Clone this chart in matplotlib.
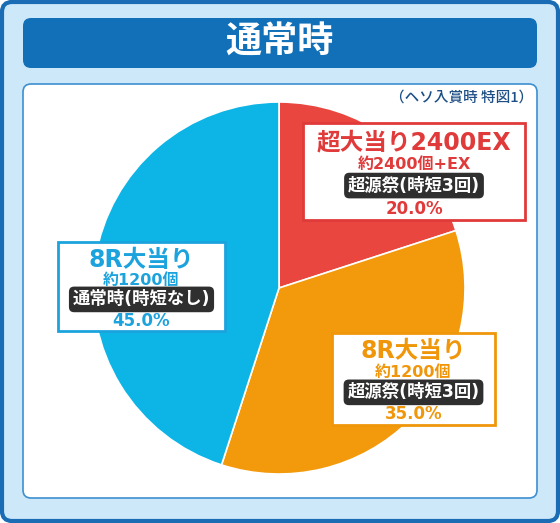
import matplotlib.pyplot as plt
from matplotlib.patches import FancyBboxPatch

plt.rcParams['font.family'] = ['DejaVu Sans', 'Noto Sans CJK JP']

W, H = 560, 523

title = '通常時'
note = '（ヘソ入賞時 特図1）'
labels = ['超大当り2400EX', '8R大当り', '8R大当り']
payouts = ['約2400個+EX', '約1200個', '約1200個']
modes = ['超源祭(時短3回)', '超源祭(時短3回)', '通常時(時短なし)']
shares = [20.0, 35.0, 45.0]

wedge_colors = ['#e8463f', '#f29a0c', '#0db4e6']
text_colors = ['#e03a3a', '#f0960a', '#1ca3dd']
# label boxes in pixel coords (left, top, right, bottom)
boxes = [(303, 123, 525, 220), (332, 333, 495, 425), (58, 242, 225, 331)]


def Y(y):
    return H - y


fig = plt.figure(figsize=(W / 100, H / 100), dpi=100)
ax = fig.add_axes([0, 0, 1, 1])

# outer frame
ax.add_patch(FancyBboxPatch((2, 2), W - 4, H - 4, boxstyle='round,pad=0,rounding_size=10',
                            fc='#cde8f8', ec='#1a6db5', lw=3))
# title bar
ax.add_patch(FancyBboxPatch((23, Y(68)), 514, 50, boxstyle='round,pad=0,rounding_size=8',
                            fc='#1170b8', ec='none'))
ax.text(280, Y(43), title, color='white', fontsize=26, fontweight='bold', ha='center', va='center')
# white panel
ax.add_patch(FancyBboxPatch((23, Y(498)), 514, 414, boxstyle='round,pad=0,rounding_size=8',
                            fc='white', ec='#3d8fd0', lw=1.2))
ax.text(533, Y(98), note, color='#1d4f86', fontsize=10.5, ha='right', va='center',
        family=['Noto Sans CJK JP', 'DejaVu Sans'], fontweight='medium')

ax.pie(shares, colors=wedge_colors, startangle=90, counterclock=False,
       center=(279, Y(288)), radius=186,
       wedgeprops=dict(edgecolor='white', linewidth=1.2))

for i in range(3):
    l, t, r, b = boxes[i]
    c = text_colors[i]
    ax.add_patch(plt.Rectangle((l, Y(b)), r - l, b - t, fc='white', ec=c, lw=2, zorder=3))
    cx = (l + r) / 2
    h = b - t
    ax.text(cx, Y(t + h * 0.2), labels[i], color=c, fontsize=17, fontweight='bold',
            ha='center', va='center', zorder=4)
    ax.text(cx, Y(t + h * 0.43), payouts[i], color=c, fontsize=11.5, fontweight='bold',
            ha='center', va='center', zorder=4)
    ax.text(cx, Y(t + h * 0.645), modes[i], color='white', fontsize=12.5, fontweight='bold',
            ha='center', va='center', zorder=5,
            bbox=dict(boxstyle='round,pad=0.22,rounding_size=0.3', fc='#2f2f2f', ec='none'))
    ax.text(cx, Y(t + h * 0.885), f'{shares[i]:.1f}%', color=c, fontsize=12, fontweight='bold',
            ha='center', va='center', zorder=4)

ax.set_xlim(0, W)
ax.set_ylim(0, H)
ax.set_aspect('auto')
ax.axis('off')

fig.savefig('out.png', dpi=100)
